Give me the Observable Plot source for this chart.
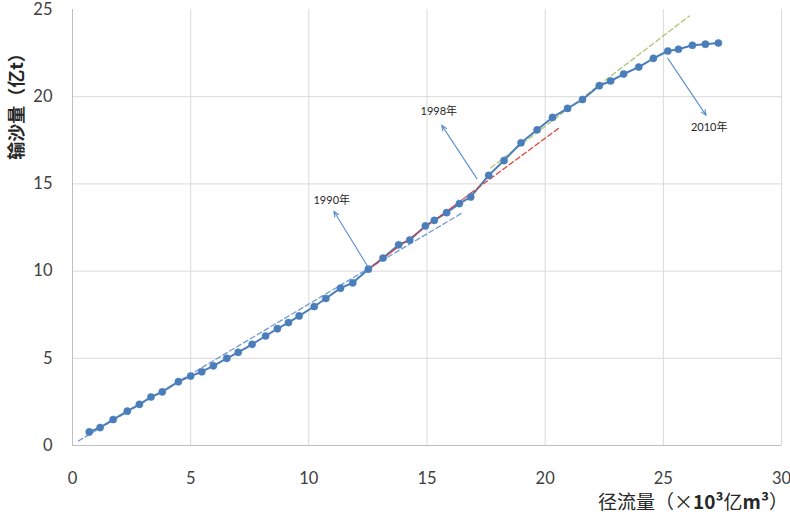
<!DOCTYPE html>
<html>
<head>
<meta charset="utf-8">
<script src="https://cdn.jsdelivr.net/npm/d3@7"></script>
<script src="https://cdn.jsdelivr.net/npm/@observablehq/plot@0.6"></script>
<style>
  html, body { margin: 0; padding: 0; background: #fff; }
  #chart svg { display: block; }
</style>
</head>
<body>
<div id="chart"></div>
<script>
// cumulative runoff (×10³亿m³) and cumulative sediment load (亿t)
const runoff = [0.71,1.17,1.72,2.32,2.83,3.32,3.80,4.48,5.00,5.47,5.96,6.53,7.01,7.60,8.17,8.67,9.14,9.59,10.23,10.72,11.34,11.86,12.52,13.14,13.80,14.27,14.93,15.31,15.83,16.37,16.85,17.61,18.26,18.98,19.66,20.31,20.95,21.58,22.29,22.77,23.32,23.96,24.58,25.19,25.64,26.23,26.78,27.33];
const sediment = [0.78,1.03,1.49,1.97,2.36,2.78,3.08,3.66,3.98,4.23,4.57,5.00,5.34,5.80,6.28,6.70,7.05,7.43,7.97,8.43,9.02,9.33,10.11,10.75,11.51,11.78,12.59,12.91,13.35,13.87,14.25,15.49,16.34,17.36,18.10,18.81,19.33,19.84,20.63,20.90,21.30,21.70,22.20,22.62,22.72,22.95,23.01,23.08];

// trend lines (endpoints)
const trendBlueX = [0.25, 16.53], trendBlueY = [0.26, 13.37];
const trendRedSolidX = [12.52, 16.85], trendRedSolidY = [10.11, 14.46];
const trendRedDashX = [16.85, 20.60], trendRedDashY = [14.46, 18.22];
const trendGreenX = [17.70, 26.10], trendGreenY = [15.92, 24.63];

// annotations
const annoLabels = ["1990年", "1998年", "2010年"];
const annoX1 = [12.53, 17.11, 25.19], annoY1 = [10.18, 15.30, 22.20];
const annoX2 = [11.06, 15.62, 26.81], annoY2 = [13.43, 18.37, 18.93];
const annoTX = [10.97, 15.50, 26.94], annoTY = [14.03, 19.16, 18.24];

const xTicks = [0, 5, 10, 15, 20, 25, 30];
const yTicks = [0, 5, 10, 15, 20, 25];
const xGrid = [5, 10, 15, 20, 25, 30];
const yGrid = [5, 10, 15, 20];

const pts = runoff.map((x, i) => ({x, y: sediment[i]}));
const seg = (xs, ys) => xs.map((x, i) => ({x, y: ys[i]}));
const annos = annoLabels.map((t, i) => ({t, x1: annoX1[i], y1: annoY1[i], x2: annoX2[i], y2: annoY2[i], tx: annoTX[i], ty: annoTY[i]}));

const tickFont = "Lato, 'Noto Sans', sans-serif";

const svg = Plot.plot({
  width: 790,
  height: 514,
  marginLeft: 72,
  marginRight: 9,
  marginTop: 9,
  marginBottom: 69,
  style: {background: "#fff", fontFamily: tickFont},
  x: {domain: [0, 30]},
  y: {domain: [0, 25]},
  marks: [
    Plot.ruleX(xGrid, {stroke: "#d9d9d9", strokeWidth: 1}),
    Plot.ruleY(yGrid, {stroke: "#d9d9d9", strokeWidth: 1}),
    Plot.ruleX([0], {stroke: "#bfbfbf", strokeWidth: 1}),
    Plot.ruleY([0], {stroke: "#bfbfbf", strokeWidth: 1}),
    Plot.axisX({ticks: xTicks, tickSize: 0, tickPadding: 27, label: null, fontSize: 16.5, fill: "#404040", tickFormat: d => d}),
    Plot.axisY({ticks: yTicks, tickSize: 0, tickPadding: 20, label: null, fontSize: 16.5, fill: "#404040", tickFormat: d => d}),
    Plot.line(seg(trendBlueX, trendBlueY), {x: "x", y: "y", stroke: "#6f9ad6", strokeWidth: 1.3, strokeDasharray: "5,3"}),
    Plot.line(seg(trendGreenX, trendGreenY), {x: "x", y: "y", stroke: "#a9c870", strokeWidth: 1.3, strokeDasharray: "5,3"}),
    Plot.line(pts, {x: "x", y: "y", stroke: "#4a7ebb", strokeWidth: 2}),
    Plot.line(seg(trendRedSolidX, trendRedSolidY), {x: "x", y: "y", stroke: "#d9393a", strokeWidth: 1.1}),
    Plot.line(seg(trendRedDashX, trendRedDashY), {x: "x", y: "y", stroke: "#e0403c", strokeWidth: 1.3, strokeDasharray: "5,3"}),
    Plot.dot(pts, {x: "x", y: "y", r: 3.6, fill: "#4a7ebb", stroke: "#4a7ebb", strokeWidth: 0.5}),
    Plot.arrow(annos, {x1: "x1", y1: "y1", x2: "x2", y2: "y2", stroke: "#5b8fd0", strokeWidth: 1.1, headLength: 8, headAngle: 45}),
    Plot.text(annos, {x: "tx", y: "ty", text: "t", fontSize: 11, fill: "#262626", fontFamily: "Lato, 'Noto Sans CJK SC', sans-serif"})
  ]
});

const s = d3.select(svg);
// y-axis title
s.append("text")
  .attr("transform", "translate(23,102) rotate(-90)")
  .attr("text-anchor", "middle")
  .attr("font-family", "'Noto Sans CJK SC', sans-serif")
  .attr("font-size", 18)
  .attr("font-weight", "bold")
  .attr("fill", "#262626")
  .text("输沙量（亿t）");
// x-axis title
const xt = s.append("text")
  .attr("x", 788)
  .attr("y", 509)
  .attr("text-anchor", "end")
  .attr("font-family", "'Noto Sans CJK SC', sans-serif")
  .attr("font-size", 19)
  .attr("fill", "#262626");
xt.append("tspan").text("径流量（×");
xt.append("tspan").attr("font-weight", "bold").text("10³");
xt.append("tspan").text("亿");
xt.append("tspan").attr("font-weight", "bold").text("m³");
xt.append("tspan").text("）");

document.getElementById("chart").appendChild(svg);
</script>
</body>
</html>
